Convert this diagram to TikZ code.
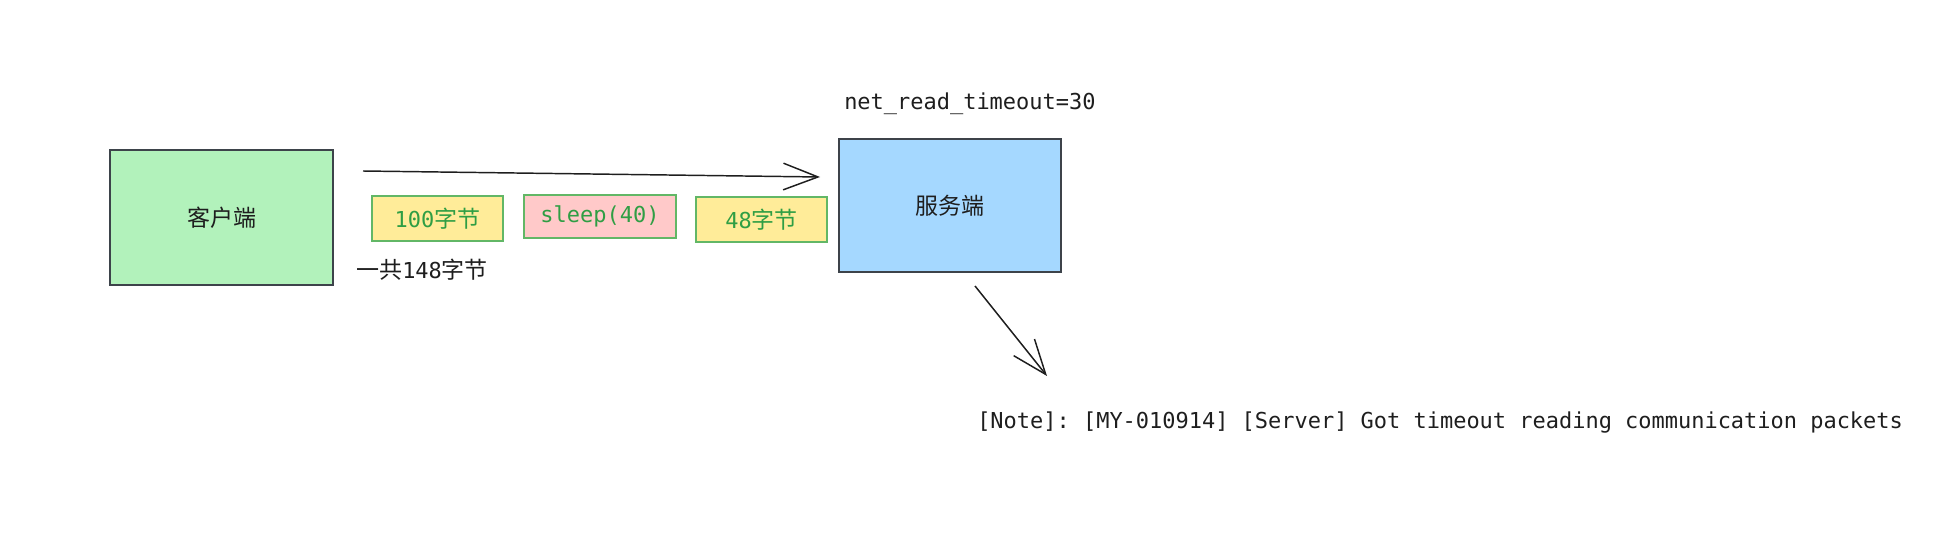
\documentclass[tikz,border=0pt]{standalone}
\usepackage{fontspec}
\setmainfont[Scale=0.955]{DejaVu Sans Mono}
\newfontfamily\cjk{Noto Sans CJK SC}
\usetikzlibrary{arrows.meta, positioning}
\frenchspacing

\definecolor{clientfill}{HTML}{B2F2BB}
\definecolor{serverfill}{HTML}{A5D8FF}
\definecolor{bytefill}{HTML}{FFEC99}
\definecolor{sleepfill}{HTML}{FFC9C9}
\definecolor{inkgreen}{HTML}{2F9E44}
\definecolor{edgegreen}{HTML}{62B766}
\definecolor{inkdark}{HTML}{1E1E1E}
\definecolor{edgedark}{HTML}{3D434A}

\begin{document}
\begin{tikzpicture}[
      x=0.75pt, y=-0.75pt,
      font=\fontsize{17.25pt}{20pt}\selectfont,
      bigbox/.style={rectangle, draw=edgedark, line width=1.4pt, inner sep=0pt, text=inkdark, text centered},
      databox/.style={rectangle, draw=edgegreen, line width=1.4pt, inner sep=0pt, text=inkgreen, text centered},
      label/.style={inner sep=0pt, anchor=west, text=inkdark},
      arrow/.style={-{Straight Barb[length=26pt, width=20pt]}, line width=1.1pt, draw=inkdark}
    ]

    \useasboundingbox (0,0) rectangle (1957,538);

    \node[bigbox, fill=clientfill, minimum width=167pt, minimum height=101pt] (client) at (221.5,217.5) {\cjk 客户端};
    \node[bigbox, fill=serverfill, minimum width=166.5pt, minimum height=100pt] (server) at (950,205.5) {\cjk 服务端};

    \node[databox, fill=bytefill, minimum width=98pt, minimum height=34pt] (first) at (437.5,218.5) {100{\cjk 字节}};
    \node[databox, fill=sleepfill, minimum width=114pt, minimum height=32pt] (pause) at (600,216.5) {sleep(40)};
    \node[databox, fill=bytefill, minimum width=98pt, minimum height=34pt] (second) at (761.5,219.5) {48{\cjk 字节}};

    \node[label] (total) at (356,270) {{\cjk 一共}148{\cjk 字节}};
    \node[label] (timeout) at (844,104) {net\_read\_timeout=30};
    \node[label] (note) at (977,423) {[Note]: [MY-010914] [Server] Got timeout reading communication packets};

    \coordinate (sendfrom) at (363,171);
    \coordinate (sendto) at (820,177);
    \coordinate (logfrom) at (975,286);
    \coordinate (logto) at (1047,376);

    \draw[arrow] (sendfrom) -- (sendto);
    \draw[arrow] (logfrom) -- (logto);

    \end{tikzpicture}
\end{document}
